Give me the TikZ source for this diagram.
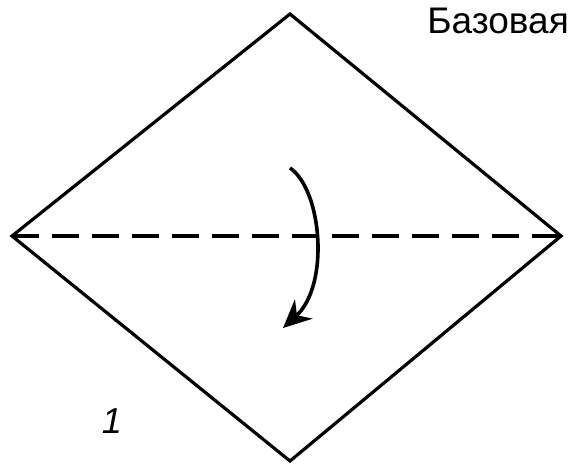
\documentclass[tikz,border=0pt]{standalone}
\usepackage{fontspec}
\setmainfont{Liberation Sans}
\usepackage{tikz}
\usetikzlibrary{arrows.meta, positioning, calc}

\begin{document}
\begin{tikzpicture}[
    x=0.5pt, y=-0.5pt,
    >={Stealth[length=14pt, width=13pt]},
    edge/.style={line width=1.6pt, line join=miter},
    foldline/.style={line width=1.8pt, dash pattern=on 13.5pt off 6.5pt},
    caption/.style={inner sep=0pt, font=\fontsize{18.5}{20}\selectfont},
    stepnum/.style={inner sep=0pt, font=\fontsize{18}{20}\selectfont\itshape},
]
    \useasboundingbox (0,0) rectangle (568,465);

    % Corners of the square
    \coordinate (top) at (290,14);
    \coordinate (left) at (12,236);
    \coordinate (right) at (561,236);
    \coordinate (bottom) at (290,461);

    % Square seen as a diamond
    \draw[edge] (top) -- (right) -- (bottom) -- (left) -- cycle;

    % Fold line
    \draw[foldline] (left) -- (right);

    % Fold arrow
    \coordinate (foldstart) at (290,168);
    \coordinate (foldend) at (283,328);
    \draw[->, line width=1.8pt] (foldstart) .. controls (322,190) and (330,285) .. (foldend);

    % Labels
    \node[caption, anchor=base west] (title) at (427,34) {Базовая};
    \node[stepnum, anchor=base] (num) at (112,433) {1};
\end{tikzpicture}
\end{document}
